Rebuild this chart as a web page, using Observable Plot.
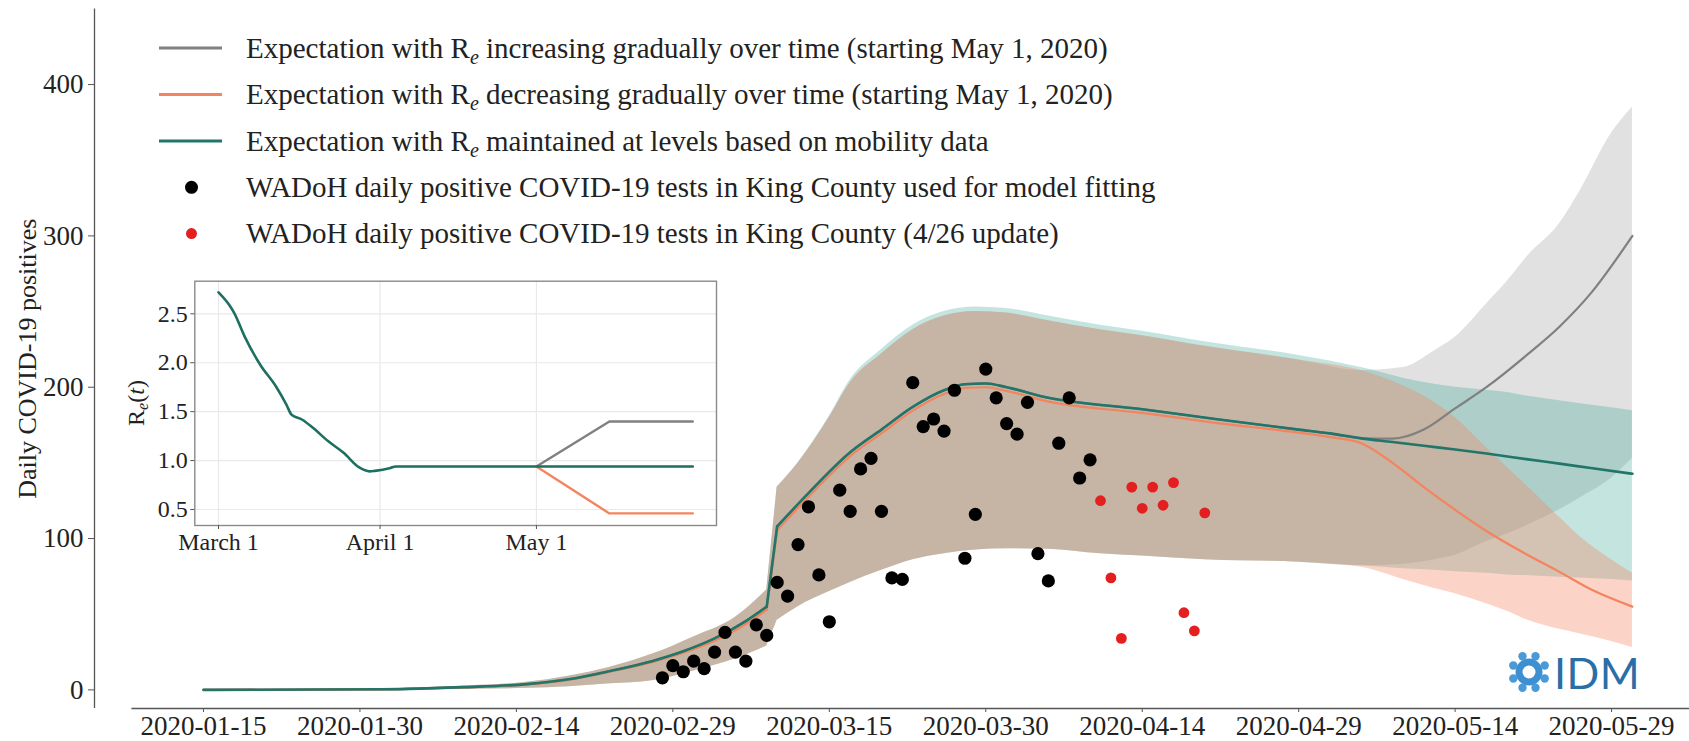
<!DOCTYPE html>
<html><head><meta charset="utf-8">
<script src="https://cdn.jsdelivr.net/npm/d3@7"></script>
<script src="https://cdn.jsdelivr.net/npm/@observablehq/plot@0.6"></script>
<style>
html,body{margin:0;padding:0;background:#fff;}
#wrap{position:relative;width:1689px;height:741px;overflow:hidden;background:#fff;}
#wrap > *{position:absolute;}
</style></head>
<body><div id="wrap"></div>
<script>
// ---------- data ----------
const lineDates = ["2020-01-15","2020-02-01","2020-02-09","2020-02-15","2020-02-19","2020-02-23","2020-02-27","2020-03-01","2020-03-04","2020-03-07","2020-03-09","2020-03-10","2020-03-13","2020-03-17","2020-03-20","2020-03-23","2020-03-26","2020-03-28","2020-03-30","2020-04-01","2020-04-05","2020-04-14","2020-04-21","2020-04-29","2020-05-02","2020-05-05","2020-05-08","2020-05-11","2020-05-14","2020-05-17","2020-05-21","2020-05-24","2020-05-27","2020-05-31"];
const maintainedLine = [0,0.4,1.8,3.8,7,12.5,19,25.5,34,45.5,55,108,130,157,172,187,198,202,202.5,200,193,185.5,179,172,169.5,166.2,163.8,161.3,158.9,156.2,152.3,149.5,146.6,142.8];
const decreasingLine = [0,0.4,1.7,3.6,6.6,12,18.3,24.5,32.5,43.5,53,105.5,127.5,154.5,169.5,184.5,195.5,199.5,200,197.5,190.5,183,176.5,170,167,163,150,134,119,105,89,78,66.5,55];
const increasingLine = [0,0.4,1.8,3.8,7,12.5,19,25.5,34,45.5,55,108,130,157,172,187,198,202,202.5,200,193,185.5,179,172,169.5,166.2,166,172,186,200,222,240,262,300];
const lineJump = 11; // index of the first day after the jump (2020-03-10)

const bandDates = ["2020-01-15","2020-02-01","2020-02-09","2020-02-15","2020-02-19","2020-02-23","2020-02-27","2020-03-02","2020-03-06","2020-03-09","2020-03-10","2020-03-12","2020-03-15","2020-03-17","2020-03-20","2020-03-23","2020-03-26","2020-03-29","2020-04-01","2020-04-05","2020-04-10","2020-04-14","2020-04-20","2020-04-29","2020-05-05","2020-05-09","2020-05-12","2020-05-14","2020-05-17","2020-05-19","2020-05-21","2020-05-24","2020-05-26","2020-05-29","2020-05-31"];
const maintainedLo = [0,0,0.5,1,2,4,6,12.5,20.5,29,46,55,65,71,79,86,90,92.5,93.3,93,90,88.5,86,84.4,82,80,79,78,77,76,75.5,74.5,74,73,72];
const maintainedHi = [0,0.6,2.5,5,9,15,23.5,35,48,66,134,150,181,205,225,241,250,253,252,247,241,237,230,221,213,206,202,200,198,196.5,194,191,189,186.5,184.5];
const decreasingLo = [0,0,0.5,1,2,4,6,12.5,20.5,29,46,55,65,71,79,86,90,92.5,93.3,93,90,88.5,86,84.4,81,73,67,63.5,57,52,46,40,37,32,28];
const decreasingHi = [0,0.6,2.5,5,9,15,23.5,35,48,66,134,150,180,203,222,238,247,250,249,244,238,234,227,218,211,201,190,180,160,147,134,114,101,86,77];
const increasingLo = [0,0,0.5,1,2,4,6,12.5,20.5,29,46,55,65,71,79,86,90,92.5,93.3,93,90,88.5,86,84.4,82,83,86,89,98,103,109,119,127,140,153];
const increasingHi = [0,0.6,2.5,5,9,15,23.5,35,48,66,134,150,180,203,222,238,247,250,249,244,238,234,227,218,211,213,224,233,255,270,287,308,330,368,385];
const bandJump = 10; // index of 2020-03-10

const fittedStart = "2020-02-28";
const fittedPositives = [8,16,12,19,14,25,38,25,19,43,36,71,62,96,121,76,45,132,118,146,153,118,74,73,203,174,179,171,198,87,116,212,193,176,169,190,90,72,163,193,140,152];
const updateStart = "2020-04-10";
const updatePositives = [125,74,34,134,120,134,122,137,51,39,117];

const xTicks = ["2020-01-15","2020-01-30","2020-02-14","2020-02-29","2020-03-15","2020-03-30","2020-04-14","2020-04-29","2020-05-14","2020-05-29"];
const yTicks = [0,100,200,300,400];

const insetDates = ["2020-03-01","2020-03-03","2020-03-04","2020-03-06","2020-03-09","2020-03-12","2020-03-14","2020-03-15","2020-03-17","2020-03-19","2020-03-22","2020-03-25","2020-03-28","2020-03-30","2020-03-31","2020-04-03","2020-04-04","2020-05-01","2020-05-31"];
const insetMaintained = [2.72,2.595,2.51,2.27,1.98,1.76,1.575,1.47,1.42,1.34,1.2,1.08,0.93,0.89,0.895,0.925,0.94,0.94,0.94];
const insetScenarioDates = ["2020-05-01","2020-05-15","2020-05-31"];
const insetIncreasing = [0.94,1.4,1.4];
const insetDecreasing = [0.94,0.46,0.46];
const insetTicks = ["2020-03-01","2020-04-01","2020-05-01"];
const insetTickLabels = ["March 1","April 1","May 1"];
const insetYTicks = [0.5,1.0,1.5,2.0,2.5];

const legendItems = [
  {kind:"line", color:"#808080", pre:"Expectation with R", sub:"e", post:" increasing gradually over time (starting May 1, 2020)"},
  {kind:"line", color:"#f4845f", pre:"Expectation with R", sub:"e", post:" decreasing gradually over time (starting May 1, 2020)"},
  {kind:"line", color:"#217569", pre:"Expectation with R", sub:"e", post:" maintained at levels based on mobility data"},
  {kind:"dot", color:"#000000", r:6.5, pre:"WADoH daily positive COVID-19 tests in King County used for model fitting"},
  {kind:"dot", color:"#e3201f", r:5.5, pre:"WADoH daily positive COVID-19 tests in King County (4/26 update)"}
];
const yLabel = "Daily COVID-19 positives";

// ---------- config ----------
const FONT = "'Liberation Serif','Times New Roman',serif";
const C = {gray:"#808080", orange:"#f4845f", teal:"#217569", tealBand:"#2a9d8f", grayBand:"#888888", red:"#e3201f", axis:"#555"};
const P = d3.utcParse("%Y-%m-%d");
const xDomain = [new Date("2020-01-04T13:12Z"), new Date("2020-06-05T11:17Z")];
const xSpineStart = new Date("2020-01-08T03:20Z");
const yDomain = [-12.3, 450];

// split a series into smooth pieces around a jump, plus a straight connector
function lineParts(dates, vals, j) {
  const all = dates.map((d,i)=>({date:P(d), value:vals[i], i}));
  const smooth = all.map(r => ({...r, seg: r.i < j ? "a" : "c"}));
  const jump = all.slice(j-1, j+1);
  return {smooth, jump};
}
function bandParts(dates, lo, hi, j) {
  const all = dates.map((d,i)=>({date:P(d), lo:lo[i], hi:hi[i], i}));
  const smooth = all.map(r => ({...r, seg: r.i < j ? "a" : "c"}));
  const jump = all.slice(j-1, j+1);
  return {smooth, jump};
}
function bandMarks(parts, fill, op) {
  return [
    Plot.areaY(parts.smooth, {x:"date", y1:"lo", y2:"hi", z:"seg", fill, fillOpacity:op, curve:"monotone-x"}),
    Plot.areaY(parts.jump, {x:"date", y1:"lo", y2:"hi", fill, fillOpacity:op, curve:"linear"})
  ];
}
function lineMarks(parts, stroke, w) {
  return [
    Plot.lineY(parts.smooth, {x:"date", y:"value", z:"seg", stroke, strokeWidth:w, curve:"monotone-x"}),
    Plot.lineY(parts.jump, {x:"date", y:"value", stroke, strokeWidth:w, curve:"linear"})
  ];
}
const seq = (start, vals) => vals.map((v,i)=>({date:d3.utcDay.offset(P(start), i), value:v}));
const rows = (dates, vals) => dates.map((d,i)=>({date:P(d), value:vals[i]}));

const wrap = document.getElementById("wrap");

const main = Plot.plot({
  width:1689, height:741,
  marginTop:8.4, marginBottom:33, marginLeft:94, marginRight:0,
  style:{fontFamily:FONT, fontSize:"27px", color:"#222", background:"transparent", overflow:"visible"},
  x:{type:"utc", domain:xDomain, axis:null},
  y:{domain:yDomain, axis:null},
  marks:[
    ...bandMarks(bandParts(bandDates, increasingLo, increasingHi, bandJump), C.grayBand, 0.25),
    ...bandMarks(bandParts(bandDates, maintainedLo, maintainedHi, bandJump), C.tealBand, 0.28),
    ...bandMarks(bandParts(bandDates, decreasingLo, decreasingHi, bandJump), C.orange, 0.35),
    ...lineMarks(lineParts(lineDates, increasingLine, lineJump), C.gray, 2.2),
    ...lineMarks(lineParts(lineDates, decreasingLine, lineJump), C.orange, 2.2),
    ...lineMarks(lineParts(lineDates, maintainedLine, lineJump), C.teal, 2.6),
    Plot.dot(seq(fittedStart, fittedPositives), {x:"date", y:"value", r:6.6, fill:"#000", stroke:"none"}),
    Plot.dot(seq(updateStart, updatePositives), {x:"date", y:"value", r:5.4, fill:C.red, stroke:"none"}),
    Plot.ruleX([xDomain[0]], {y1:yDomain[0], y2:yDomain[1], stroke:C.axis, strokeWidth:1.3}),
    Plot.ruleY([yDomain[0]], {x1:xSpineStart, x2:xDomain[1], stroke:C.axis, strokeWidth:1.3}),
    Plot.axisY({ticks:yTicks, tickSize:6, tickPadding:5, label:null, stroke:C.axis, fill:"#222"}),
    Plot.axisX({ticks:xTicks.map(P), tickFormat:d3.utcFormat("%Y-%m-%d"), tickSize:4, tickPadding:3, label:null, stroke:C.axis, fill:"#222"}),
    Plot.text([yLabel], {frameAnchor:"left", textAnchor:"middle", rotate:-90, dx:-67, fontSize:26, fill:"#222"})
  ]
});
main.style.left = "0px"; main.style.top = "0px";
wrap.appendChild(main);

// inset
const IL = 100, IT = 270;
const inset = Plot.plot({
  width:630, height:300,
  marginLeft:94.3, marginTop:10.7, marginRight:14, marginBottom:45,
  style:{fontFamily:FONT, fontSize:"24px", color:"#222", background:"transparent", overflow:"visible"},
  x:{type:"utc", domain:[new Date("2020-02-25T10:48Z"), new Date("2020-06-04T13:12Z")], axis:null},
  y:{domain:[0.3365, 2.8335], axis:null},
  marks:[
    Plot.frame({fill:"#fff", stroke:"none"}),
    Plot.gridY(insetYTicks, {stroke:"#e9e9e9", strokeOpacity:1, strokeWidth:1.2}),
    Plot.gridX(insetTicks.map(P), {stroke:"#e9e9e9", strokeOpacity:1, strokeWidth:1.2}),
    Plot.lineY(rows(insetScenarioDates, insetIncreasing), {x:"date", y:"value", stroke:C.gray, strokeWidth:2.4}),
    Plot.lineY(rows(insetScenarioDates, insetDecreasing), {x:"date", y:"value", stroke:C.orange, strokeWidth:2.4}),
    Plot.lineY(rows(insetDates, insetMaintained), {x:"date", y:"value", stroke:"#1d6f60", strokeWidth:2.6, curve:"monotone-x"}),
    Plot.frame({stroke:"#8a8a8a", strokeWidth:1.4}),
    Plot.axisY({ticks:insetYTicks, tickFormat:d3.format(".1f"), tickSize:4, tickPadding:3, label:null, stroke:C.axis, fill:"#222"}),
    Plot.axisX({ticks:insetTicks.map(P), tickFormat:(d,i)=>insetTickLabels[i], tickSize:4, tickPadding:3, label:null, stroke:C.axis, fill:"#222"})
  ]
});
inset.style.left = IL+"px"; inset.style.top = IT+"px";
wrap.appendChild(inset);

// overlay: legend, inset y label, logo
const ov = d3.select(wrap).append("svg").attr("width",1689).attr("height",741)
  .style("left","0px").style("top","0px").style("pointer-events","none")
  .attr("font-family", FONT).attr("fill","#222");

const rowY = [48, 94.5, 141, 187.3, 233.6];
legendItems.forEach((it, i) => {
  const y = rowY[i];
  if (it.kind === "line") {
    ov.append("line").attr("x1",159).attr("x2",222).attr("y1",y).attr("y2",y)
      .attr("stroke",it.color).attr("stroke-width",3);
  } else {
    ov.append("circle").attr("cx",191.5).attr("cy",y).attr("r",it.r).attr("fill",it.color);
  }
  const t = ov.append("text").attr("x",246).attr("y",y+9.5).attr("font-size",29);
  t.append("tspan").text(it.pre);
  if (it.sub) {
    t.append("tspan").attr("font-style","italic").attr("font-size",20).attr("dy",6).text(it.sub);
    t.append("tspan").attr("dy",-6).text(it.post);
  }
});

// inset y label R_e(t)
const rl = ov.append("text").attr("transform","translate(144,403) rotate(-90)")
  .attr("text-anchor","middle").attr("font-size",24);
rl.append("tspan").text("R");
rl.append("tspan").attr("font-style","italic").attr("font-size",16).attr("dy",4).text("e");
rl.append("tspan").attr("dy",-4).text("(");
rl.append("tspan").attr("font-style","italic").text("t");
rl.append("tspan").text(")");

// IDM logo
const logo = ov.append("g").attr("transform","translate(1529,672)");
logo.append("circle").attr("r",10).attr("fill","none").attr("stroke","#3d8fd1").attr("stroke-width",7);
d3.range(8).forEach(k => {
  const a = k*Math.PI/4 + Math.PI/8;
  logo.append("circle").attr("cx",17*Math.cos(a)).attr("cy",17*Math.sin(a)).attr("r",4.2).attr("fill","#4a9ad8");
});
ov.append("text").attr("x",1554).attr("y",689).attr("font-family","Lato, 'Open Sans', sans-serif")
  .attr("font-size",43).attr("fill","#2a6ea6").attr("letter-spacing",0.5).text("IDM");
</script></body></html>
